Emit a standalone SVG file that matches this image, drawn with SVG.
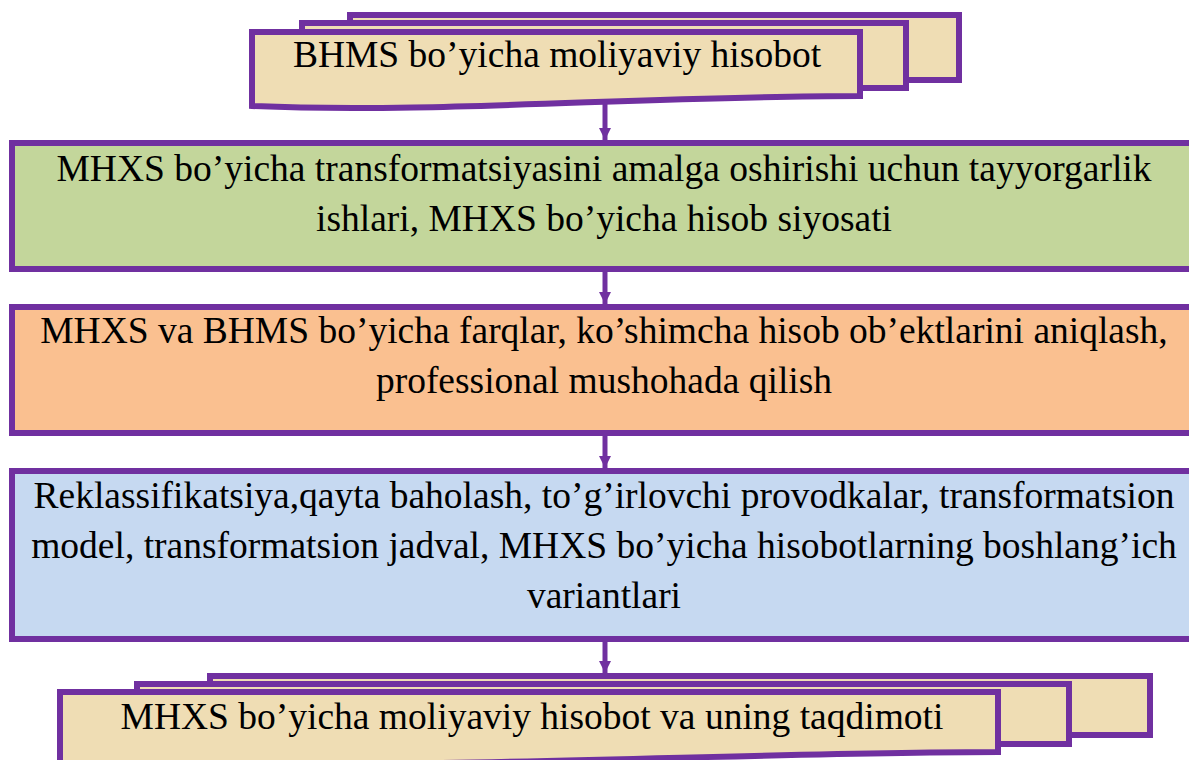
<svg xmlns="http://www.w3.org/2000/svg" width="1189" height="760" viewBox="0 0 1189 760">
<style>
.sheet{fill:#EFDDB4;stroke:#7030A0;stroke-width:6}
.box{stroke:#7030A0;stroke-width:6}
.t{font-family:"Liberation Serif","Times New Roman",serif;font-size:37.5px;fill:#000;text-anchor:middle}
.conn{stroke:#7030A0;stroke-width:5;fill:none}
</style>
<defs>
<marker id="ah" markerUnits="userSpaceOnUse" markerWidth="14" markerHeight="12" refX="12" refY="6" orient="auto">
<path d="M0,0 L12,6 L0,12 Z" fill="#7030A0"/>
</marker>
</defs>
<rect width="1189" height="760" fill="#fff"/>
<g id="connectors">
<line class="conn" x1="605" y1="103" x2="605" y2="140" marker-end="url(#ah)"/>
<line class="conn" x1="605" y1="272" x2="605" y2="304" marker-end="url(#ah)"/>
<line class="conn" x1="605" y1="436" x2="605" y2="468" marker-end="url(#ah)"/>
<line class="conn" x1="605" y1="642" x2="605" y2="673" marker-end="url(#ah)"/>
</g>
<g id="node-bhms">
<rect class="sheet" x="350" y="15" width="609" height="65"/>
<rect class="sheet" x="302" y="23" width="604" height="65"/>
<path class="sheet" d="M252,32 H860 V96 C640,96 430,114 252,106 Z"/>
<text class="t" x="557" y="67">BHMS bo’yicha moliyaviy hisobot</text>
</g>
<g id="node-prep">
<rect class="box" x="12" y="143" width="1186" height="126" fill="#C3D69B"/>
<text class="t" x="604" y="181">MHXS bo’yicha transformatsiyasini amalga oshirishi uchun tayyorgarlik</text>
<text class="t" x="604" y="231">ishlari, MHXS bo’yicha hisob siyosati</text>
</g>
<g id="node-diff">
<rect class="box" x="12" y="307" width="1186" height="126" fill="#FAC090"/>
<text class="t" x="604" y="343">MHXS va BHMS bo’yicha farqlar, ko’shimcha hisob ob’ektlarini aniqlash,</text>
<text class="t" x="604" y="393">professional mushohada qilish</text>
</g>
<g id="node-reclass">
<rect class="box" x="12" y="471" width="1186" height="168" fill="#C6D9F1"/>
<text class="t" x="604" y="508">Reklassifikatsiya,qayta baholash, to’g’irlovchi provodkalar, transformatsion</text>
<text class="t" x="604" y="558">model, transformatsion jadval, MHXS bo’yicha hisobotlarning boshlang’ich</text>
<text class="t" x="604" y="608">variantlari</text>
</g>
<g id="node-mhxs">
<rect class="sheet" x="210" y="676" width="940" height="59"/>
<rect class="sheet" x="137" y="684" width="932" height="60"/>
<path class="sheet" d="M60,692 H998 V752 C760,752 420,770 60,764 Z"/>
<text class="t" x="532" y="729">MHXS bo’yicha moliyaviy hisobot va uning taqdimoti</text>
</g>
</svg>
